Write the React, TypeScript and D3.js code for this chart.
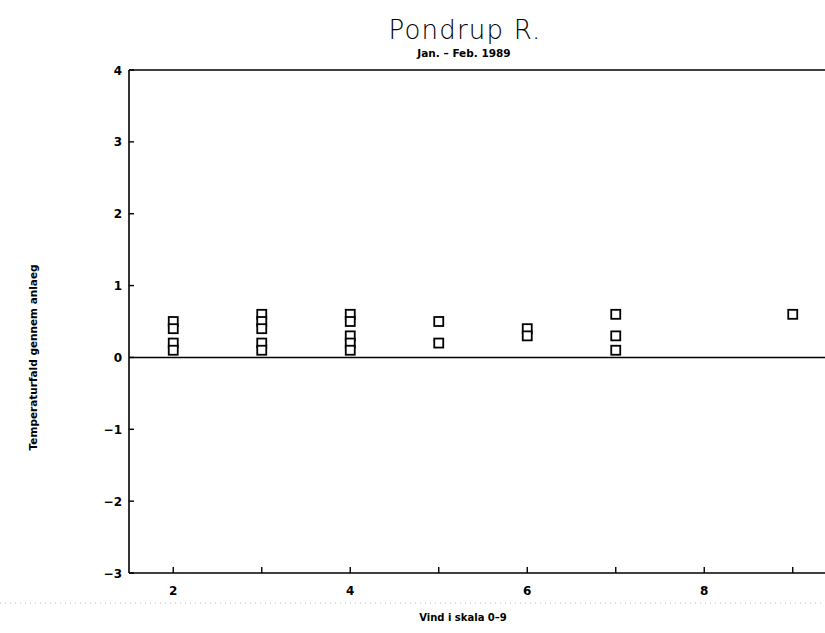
import React from "react";
import * as d3 from "d3";

const TITLE = "Pondrup R.";
const SUBTITLE = "Jan. – Feb. 1989";
const X_LABEL = "Vind i skala 0–9";
const Y_LABEL = "Temperaturfald gennem anlaeg";

const windX = [2, 2, 2, 2, 3, 3, 3, 3, 3, 4, 4, 4, 4, 4, 5, 5, 6, 6, 7, 7, 7, 9];
const tempDrop = [0.5, 0.4, 0.2, 0.1, 0.6, 0.5, 0.4, 0.2, 0.1, 0.6, 0.5, 0.3, 0.2, 0.1, 0.5, 0.2, 0.4, 0.3, 0.6, 0.3, 0.1, 0.6];

const xTicks = [2, 3, 4, 5, 6, 7, 8, 9];
const xTickLabels = [2, 4, 6, 8];
const yTicks = [-3, -2, -1, 0, 1, 2, 3, 4];

export default function App() {
  const W = 825, H = 633;
  const left = 129, right = 837, top = 70, bottom = 573;
  const x = d3.scaleLinear().domain([1.5, 9.5]).range([left, right]);
  const y = d3.scaleLinear().domain([-3, 4]).range([bottom, top]);
  const fmt = (v: number) => (v < 0 ? "\u2212" + Math.abs(v) : String(v));
  const sq = 9;
  const pts = windX.map((wx, i) => ({ wx, v: tempDrop[i] }));
  return (
    <svg width={W} height={H} style={{ position: "absolute", left: 0, top: 0, background: "#fff" }}
      fontFamily="'DejaVu Sans', sans-serif">
      <rect x={0} y={0} width={W} height={H} fill="#fff" />
      <text x={465} y={39} textAnchor="middle" fontSize={26} fontFamily="'DejaVu Sans ExtraLight', 'DejaVu Sans', sans-serif" fontWeight={200} letterSpacing={1.2} fill="#000">{TITLE}</text>
      <text x={464} y={57} textAnchor="middle" fontSize={10.5} fontWeight="bold" fill="#000">{SUBTITLE}</text>
      {/* frame */}
      <line x1={left} x2={W} y1={y(4)} y2={y(4)} stroke="#000" strokeWidth={1.6} />
      <line x1={left} x2={W} y1={y(-3)} y2={y(-3)} stroke="#000" strokeWidth={1.6} />
      <line x1={left} x2={left} y1={y(4)} y2={y(-3)} stroke="#000" strokeWidth={1.6} />
      <line x1={left} x2={W} y1={y(0)} y2={y(0)} stroke="#000" strokeWidth={1.6} />
      {yTicks.map((t) => (
        <g key={"y" + t}>
          <line x1={left} x2={left + 5} y1={y(t)} y2={y(t)} stroke="#000" strokeWidth={1.4} />
          <text x={left - 7} y={y(t) + 4.5} textAnchor="end" fontSize={12} fontWeight="bold" fill="#000">{fmt(t)}</text>
        </g>
      ))}
      {xTicks.map((t) => (
        <line key={"x" + t} x1={x(t)} x2={x(t)} y1={y(-3)} y2={y(-3) - 6} stroke="#000" strokeWidth={1.4} />
      ))}
      {xTickLabels.map((t) => (
        <text key={"xl" + t} x={x(t)} y={y(-3) + 22} textAnchor="middle" fontSize={12} fontWeight="bold" fill="#000">{t}</text>
      ))}
      <line x1={0} x2={W} y1={603} y2={603} stroke="#bbb" strokeWidth={1} strokeDasharray="1 4" />
      <text x={463} y={621} textAnchor="middle" fontSize={10} fontWeight="bold" fill="#000">{X_LABEL}</text>
      <text transform={`translate(37, ${y(0)}) rotate(-90)`} textAnchor="middle" fontSize={10.5} fontWeight="bold" fill="#000">{Y_LABEL}</text>
      {pts.map((p, i) => (
        <rect key={i} x={x(p.wx) - sq / 2} y={y(p.v) - sq / 2} width={sq} height={sq}
          fill="#fff" stroke="#000" strokeWidth={1.8} />
      ))}
    </svg>
  );
}
